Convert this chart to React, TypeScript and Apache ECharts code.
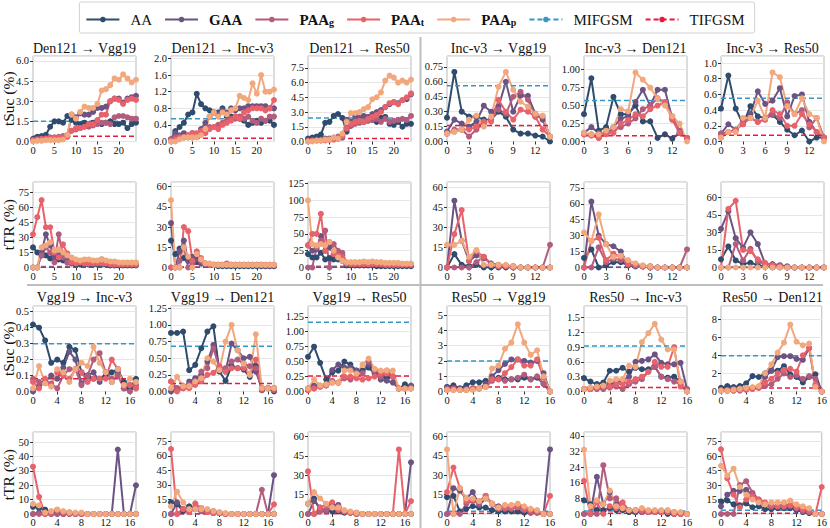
import React, { useEffect, useRef } from 'react';
import * as echarts from 'echarts';

// ---------- legend / series ----------
const SERIES = ['AA', 'GAA', 'PAAg', 'PAAt', 'PAAp'];
const REFS = ['MIFGSM', 'TIFGSM'];
const COLORS = ['#2f4b6e', '#6b5384', '#b35d7e', '#e8626b', '#f1a87d'];
const REF_COLORS = ['#3597c4', '#e8183e'];

const TITLES_TOP = ['Den121 → Vgg19', 'Den121 → Inc-v3', 'Den121 → Res50', 'Inc-v3 → Vgg19', 'Inc-v3 → Den121', 'Inc-v3 → Res50'];
const TITLES_BOTTOM = ['Vgg19 → Inc-v3', 'Vgg19 → Den121', 'Vgg19 → Res50', 'Res50 → Vgg19', 'Res50 → Inc-v3', 'Res50 → Den121'];
const Y_LABELS = ['tSuc (%)', 'tTR (%)', 'tSuc (%)', 'tTR (%)'];

// ---------- data: [AA, GAA, PAA_g, PAA_t, PAA_p] ----------
// Row 1: tSuc, source Den121 (x 0..24) and Inc-v3 (x 0..14)
const sucDen121Vgg19 = [
  [0.2, 0.35, 0.4, 0.5, 1.1, 1.5, 1.5, 1.4, 1.9, 1.6, 1.4, 1.3, 1.4, 1.3, 1.4, 1.5, 1.3, 1.4, 1.5, 1.3, 1.3, 1.4, 1.0, 1.3, 1.4],
  [0.1, 0.2, 0.2, 0.25, 0.3, 0.3, 0.3, 0.35, 0.4, 2.0, 1.8, 2.1, 2.0, 2.0, 2.2, 2.5, 2.5, 2.6, 3.0, 3.2, 3.2, 2.9, 3.2, 3.3, 3.4],
  [0.1, 0.15, 0.2, 0.2, 0.3, 0.3, 0.35, 0.4, 0.5, 0.8, 0.9, 1.0, 1.1, 1.1, 1.2, 1.3, 1.4, 1.4, 1.3, 1.8, 1.9, 1.9, 1.8, 1.7, 1.7],
  [0.1, 0.15, 0.2, 0.2, 0.25, 0.3, 0.3, 0.3, 0.35, 0.8, 1.0, 1.0, 1.1, 1.3, 1.3, 1.6, 2.0, 2.0, 3.0, 3.2, 3.1, 2.8, 3.1, 3.2, 3.1],
  [0.0, 0.05, 0.05, 0.1, 0.1, 0.1, 0.1, 0.15, 0.5, 2.0, 1.7, 2.2, 2.6, 2.5, 2.5, 2.8, 3.8, 3.9, 4.2, 4.7, 4.6, 5.0, 4.7, 4.4, 4.6],
];
const sucDen121Incv3 = [
  [0.05, 0.25, 0.35, 0.45, 0.65, 0.7, 1.15, 0.9, 0.8, 0.75, 0.7, 0.7, 0.8, 0.6, 0.6, 0.6, 0.55, 0.5, 0.4, 0.45, 0.5, 0.45, 0.5, 0.5, 0.4],
  [0.05, 0.2, 0.15, 0.2, 0.15, 0.2, 0.15, 0.3, 0.45, 0.6, 0.7, 0.65, 0.75, 0.7, 0.8, 0.75, 0.8, 0.8, 0.85, 0.85, 0.85, 0.85, 0.85, 0.8, 0.8],
  [0.05, 0.1, 0.1, 0.1, 0.1, 0.1, 0.15, 0.2, 0.25, 0.35, 0.35, 0.4, 0.45, 0.5, 0.55, 0.55, 0.6, 0.55, 0.6, 0.5, 0.45, 0.55, 0.5, 0.6, 0.6],
  [0.0, 0.05, 0.1, 0.1, 0.15, 0.2, 0.2, 0.25, 0.2, 0.3, 0.35, 0.3, 0.4, 0.45, 0.5, 0.6, 0.55, 0.7, 0.75, 0.8, 0.8, 0.8, 0.75, 0.8, 1.0],
  [0.0, 0.0, 0.05, 0.1, 0.1, 0.1, 0.1, 0.15, 0.3, 0.6, 0.7, 0.6, 0.7, 0.65, 0.75, 0.8, 1.1, 1.05, 1.0, 1.4, 1.15, 1.6, 1.2, 1.2, 1.25],
];
const sucDen121Res50 = [
  [0.3, 0.4, 0.5, 0.7, 1.9, 2.0, 2.6, 2.8, 2.4, 1.0, 1.6, 2.0, 2.2, 2.0, 2.3, 2.2, 2.0, 2.4, 2.5, 1.8, 1.7, 2.0, 1.5, 1.8, 1.8],
  [0.1, 0.1, 0.2, 0.2, 0.3, 0.3, 0.4, 0.3, 0.4, 2.2, 2.0, 2.6, 2.4, 2.6, 2.5, 2.8, 3.0, 3.2, 3.5, 3.8, 4.0, 3.9, 4.2, 4.3, 4.8],
  [0.1, 0.1, 0.1, 0.1, 0.2, 0.2, 0.3, 0.5, 0.6, 1.4, 1.6, 1.8, 1.9, 2.0, 2.1, 2.2, 2.3, 2.0, 2.3, 2.0, 2.1, 2.2, 2.3, 2.2, 2.6],
  [0.0, 0.1, 0.1, 0.1, 0.1, 0.2, 0.2, 0.3, 0.5, 1.3, 1.8, 2.0, 2.1, 2.0, 2.3, 2.5, 2.7, 3.0, 3.5, 3.9, 4.0, 3.8, 4.2, 4.5, 4.9],
  [0.0, 0.0, 0.1, 0.1, 0.2, 0.2, 0.4, 0.3, 0.8, 2.0, 2.9, 2.9, 3.0, 3.3, 3.5, 4.3, 4.5, 5.0, 6.2, 6.7, 6.5, 6.0, 6.2, 6.0, 6.3],
];
const sucIncv3Vgg19 = [
  [0.24, 0.70, 0.30, 0.25, 0.25, 0.22, 0.22, 0.30, 0.25, 0.12, 0.08, 0.08, 0.06, 0.05, 0.0],
  [0.10, 0.22, 0.18, 0.15, 0.20, 0.36, 0.30, 0.35, 0.60, 0.30, 0.46, 0.46, 0.28, 0.22, 0.05],
  [0.08, 0.12, 0.12, 0.05, 0.12, 0.18, 0.22, 0.32, 0.28, 0.45, 0.50, 0.42, 0.25, 0.25, 0.05],
  [0.08, 0.10, 0.12, 0.12, 0.15, 0.20, 0.20, 0.42, 0.30, 0.22, 0.32, 0.30, 0.25, 0.12, 0.05],
  [0.08, 0.10, 0.12, 0.22, 0.26, 0.15, 0.25, 0.55, 0.70, 0.52, 0.40, 0.35, 0.28, 0.26, 0.05],
];
const sucIncv3Den121 = [
  [0.38, 0.88, 0.15, 0.20, 0.62, 0.38, 0.38, 0.50, 0.28, 0.28, 0.05, 0.10, 0.04, 0.12, 0.05],
  [0.12, 0.20, 0.12, 0.12, 0.20, 0.32, 0.35, 0.55, 0.72, 0.50, 0.72, 0.72, 0.32, 0.12, 0.05],
  [0.10, 0.10, 0.05, 0.12, 0.15, 0.20, 0.25, 0.32, 0.45, 0.50, 0.60, 0.55, 0.35, 0.15, 0.05],
  [0.10, 0.08, 0.05, 0.10, 0.12, 0.25, 0.30, 0.38, 0.35, 0.45, 0.50, 0.55, 0.30, 0.12, 0.05],
  [0.12, 0.10, 0.10, 0.15, 0.20, 0.45, 0.42, 0.96, 0.86, 0.75, 0.60, 0.50, 0.35, 0.25, 0.0],
];
const sucIncv3Res50 = [
  [0.42, 0.84, 0.42, 0.22, 0.45, 0.32, 0.30, 0.34, 0.25, 0.15, 0.08, 0.14, 0.0, 0.05, 0.05],
  [0.10, 0.22, 0.15, 0.28, 0.35, 0.64, 0.48, 0.52, 0.68, 0.32, 0.58, 0.60, 0.25, 0.12, 0.05],
  [0.10, 0.12, 0.15, 0.25, 0.30, 0.25, 0.28, 0.35, 0.30, 0.50, 0.35, 0.40, 0.18, 0.30, 0.05],
  [0.05, 0.12, 0.15, 0.22, 0.30, 0.25, 0.28, 0.40, 0.35, 0.20, 0.20, 0.35, 0.22, 0.12, 0.05],
  [0.05, 0.12, 0.12, 0.30, 0.30, 0.52, 0.30, 0.88, 0.82, 0.45, 0.35, 0.55, 0.35, 0.30, 0.0],
];

// Row 2: tTR, source Den121 and Inc-v3
const trDen121Vgg19 = [
  [20, 15, 12, 12, 9, 8, 8, 7, 5, 4, 3, 3, 3, 3, 3, 3, 3, 3, 2, 2, 2, 2, 2, 2, 2],
  [0, 0, 15, 33, 22, 10, 12, 10, 8, 7, 6, 6, 5, 6, 5, 6, 8, 6, 5, 5, 4, 4, 4, 4, 4],
  [0, 0, 12, 20, 15, 5, 33, 10, 5, 5, 5, 5, 4, 4, 4, 5, 5, 4, 4, 3, 3, 3, 3, 3, 3],
  [33, 50, 67, 40, 40, 15, 10, 23, 14, 5, 4, 5, 4, 4, 4, 4, 4, 4, 3, 3, 3, 3, 3, 3, 3],
  [0, 0, 20, 22, 25, 17, 18, 15, 12, 10, 8, 7, 8, 8, 7, 7, 8, 7, 6, 6, 5, 5, 5, 5, 5],
];
const trDen121Incv3 = [
  [20, 10, 14, 7, 5, 6, 4, 3, 2, 2, 2, 1, 1, 1, 1, 1, 1, 1, 1, 1, 1, 1, 1, 1, 1],
  [33, 0, 12, 20, 5, 8, 6, 3, 2, 2, 2, 2, 2, 2, 2, 2, 2, 2, 2, 2, 2, 2, 1, 1, 1],
  [0, 0, 5, 15, 0, 3, 10, 5, 3, 2, 2, 2, 2, 2, 2, 2, 2, 2, 2, 2, 2, 2, 2, 2, 2],
  [0, 0, 0, 30, 27, 5, 12, 7, 3, 2, 2, 2, 2, 3, 2, 2, 2, 2, 2, 2, 2, 2, 2, 2, 2],
  [50, 0, 0, 15, 8, 0, 10, 6, 3, 3, 2, 2, 2, 2, 2, 2, 2, 2, 2, 2, 2, 2, 2, 2, 2],
];
const trDen121Res50 = [
  [20, 15, 15, 22, 12, 14, 12, 12, 10, 3, 3, 3, 3, 3, 3, 3, 2, 2, 2, 2, 2, 2, 2, 2, 2],
  [33, 25, 27, 47, 25, 30, 20, 20, 18, 5, 5, 5, 5, 5, 5, 5, 5, 4, 4, 4, 4, 4, 4, 4, 4],
  [0, 0, 30, 40, 55, 0, 35, 25, 22, 6, 6, 6, 6, 6, 6, 6, 5, 5, 5, 5, 5, 5, 5, 5, 5],
  [33, 50, 50, 80, 25, 38, 20, 18, 15, 6, 5, 5, 5, 5, 5, 5, 5, 5, 4, 4, 4, 4, 4, 4, 4],
  [100, 35, 33, 35, 33, 38, 25, 15, 10, 8, 8, 8, 8, 9, 8, 9, 8, 8, 7, 7, 7, 7, 6, 6, 6],
];
const trIncv3Vgg19 = [
  [0, 10, 2, 1, 2, 0, 0, 0, 0, 0, 0, 0, 0, 0, 0],
  [0, 50, 20, 5, 9, 7, 3, 2, 1, 1, 0, 0, 0, 0, 0],
  [0, 0, 0, 0, 4, 8, 3, 1, 1, 0, 0, 0, 0, 0, 17],
  [0, 25, 43, 5, 12, 8, 2, 1, 1, 0, 0, 0, 0, 0, 0],
  [17, 17, 20, 8, 13, 2, 2, 2, 2, 1, 0, 0, 0, 0, 0],
];
const trIncv3Den121 = [
  [9, 17, 0, 2, 5, 5, 2, 1, 1, 0, 0, 0, 0, 0, 0],
  [0, 62, 30, 22, 20, 15, 3, 2, 1, 1, 0, 0, 0, 0, 0],
  [0, 0, 19, 5, 8, 7, 3, 2, 1, 1, 0, 0, 0, 0, 17],
  [0, 25, 28, 7, 13, 10, 3, 2, 1, 0, 0, 0, 0, 0, 0],
  [33, 25, 50, 22, 10, 11, 7, 4, 2, 1, 0, 0, 0, 0, 0],
];
const trIncv3Res50 = [
  [7, 18, 6, 3, 4, 2, 1, 0, 0, 0, 0, 0, 0, 0, 0],
  [33, 48, 25, 17, 30, 20, 3, 3, 2, 1, 0, 0, 0, 0, 0],
  [0, 0, 20, 6, 16, 5, 3, 2, 1, 0, 0, 0, 0, 0, 0],
  [0, 50, 57, 15, 14, 7, 4, 2, 1, 0, 0, 0, 0, 0, 0],
  [0, 0, 0, 0, 0, 0, 0, 0, 0, 0, 0, 0, 0, 0, 0],
];

// Row 3: tSuc, source Vgg19 (x 0..17) and Res50 (x 0..16)
const sucVgg19Incv3 = [
  [0.42, 0.40, 0.32, 0.18, 0.20, 0.18, 0.28, 0.26, 0.12, 0.10, 0.08, 0.08, 0.10, 0.12, 0.14, 0.06, 0.02, 0.08],
  [0.0, 0.03, 0.06, 0.10, 0.08, 0.15, 0.25, 0.20, 0.05, 0.10, 0.12, 0.06, 0.12, 0.06, 0.12, 0.02, 0.04, 0.02],
  [0.08, 0.06, 0.06, 0.05, 0.02, 0.10, 0.14, 0.14, 0.04, 0.10, 0.20, 0.24, 0.12, 0.08, 0.10, 0.02, 0.0, 0.04],
  [0.06, 0.02, 0.08, 0.04, 0.12, 0.10, 0.08, 0.14, 0.12, 0.06, 0.08, 0.08, 0.08, 0.20, 0.14, 0.04, 0.04, 0.02],
  [0.02, 0.16, 0.05, 0.03, 0.14, 0.12, 0.06, 0.14, 0.18, 0.16, 0.28, 0.18, 0.12, 0.06, 0.14, 0.04, 0.08, 0.06],
];
const sucVgg19Den121 = [
  [0.88, 0.88, 0.90, 0.32, 0.40, 0.65, 0.90, 0.98, 0.30, 0.16, 0.38, 0.35, 0.33, 0.22, 0.38, 0.02, 0.05, 0.0],
  [0.0, 0.05, 0.05, 0.15, 0.20, 0.25, 0.45, 0.70, 0.35, 0.30, 0.72, 0.62, 0.50, 0.52, 0.30, 0.05, 0.05, 0.05],
  [0.15, 0.05, 0.08, 0.10, 0.15, 0.30, 0.35, 0.65, 0.35, 0.35, 0.45, 0.48, 0.42, 0.38, 0.35, 0.02, 0.05, 0.02],
  [0.15, 0.0, 0.05, 0.05, 0.10, 0.15, 0.25, 0.28, 0.38, 0.30, 0.35, 0.35, 0.35, 0.25, 0.48, 0.05, 0.05, 0.05],
  [0.05, 0.22, 0.08, 0.08, 0.15, 0.20, 0.50, 0.45, 0.32, 0.75, 1.00, 0.62, 0.42, 0.25, 0.86, 0.05, 0.05, 0.05],
];
const sucVgg19Res50 = [
  [0.58, 0.75, 0.48, 0.20, 0.32, 0.35, 0.50, 0.45, 0.35, 0.35, 0.40, 0.30, 0.25, 0.22, 0.25, 0.05, 0.12, 0.08],
  [0.05, 0.10, 0.08, 0.10, 0.36, 0.45, 0.40, 0.40, 0.35, 0.32, 0.45, 0.32, 0.20, 0.18, 0.15, 0.05, 0.05, 0.10],
  [0.05, 0.05, 0.10, 0.12, 0.18, 0.15, 0.22, 0.20, 0.25, 0.30, 0.50, 0.35, 0.25, 0.35, 0.25, 0.05, 0.05, 0.05],
  [0.02, 0.05, 0.08, 0.10, 0.15, 0.15, 0.25, 0.25, 0.22, 0.20, 0.22, 0.25, 0.30, 0.30, 0.25, 0.05, 0.05, 0.05],
  [0.05, 0.20, 0.10, 0.12, 0.15, 0.15, 0.35, 0.35, 0.30, 0.45, 0.55, 0.38, 0.35, 0.35, 0.35, 0.05, 0.05, 0.05],
];
const sucRes50Vgg19 = [
  [0.3, 0.4, 0.2, 0.4, 0.6, 0.6, 0.7, 0.8, 0.9, 0.8, 0.8, 0.8, 0.9, 0.8, 0.9, 0.5, 0.0],
  [0.2, 0.2, 0.2, 0.2, 0.2, 0.2, 0.5, 1.0, 1.4, 1.8, 2.1, 2.1, 2.0, 1.9, 2.0, 1.2, 0.0],
  [0.2, 0.2, 0.1, 0.1, 0.2, 0.2, 0.3, 0.7, 0.8, 0.7, 0.8, 0.9, 1.1, 0.8, 1.0, 0.5, 0.0],
  [0.1, 0.1, 0.1, 0.1, 0.2, 0.2, 0.3, 0.8, 0.8, 1.2, 1.6, 2.1, 1.7, 1.7, 2.1, 0.9, 0.0],
  [0.1, 0.1, 0.1, 0.1, 0.1, 0.2, 0.3, 1.5, 1.7, 2.8, 3.2, 4.4, 3.2, 2.4, 2.7, 1.0, 0.0],
];
const sucRes50Incv3 = [
  [0.27, 0.20, 0.15, 0.18, 0.42, 0.42, 0.48, 0.40, 0.48, 0.45, 0.45, 0.50, 0.30, 0.28, 0.30, 0.20, 0.0],
  [0.05, 0.05, 0.08, 0.10, 0.15, 0.18, 0.22, 0.30, 0.60, 0.62, 0.65, 0.75, 0.58, 0.55, 0.55, 0.58, 0.05],
  [0.05, 0.05, 0.05, 0.05, 0.08, 0.10, 0.05, 0.15, 0.20, 0.25, 0.40, 0.50, 0.30, 0.25, 0.20, 0.15, 0.05],
  [0.05, 0.05, 0.08, 0.10, 0.10, 0.15, 0.15, 0.20, 0.25, 0.30, 0.40, 0.60, 0.50, 0.50, 0.90, 0.10, 0.0],
  [0.05, 0.08, 0.10, 0.12, 0.22, 0.25, 0.25, 0.52, 0.50, 1.00, 1.18, 1.37, 1.05, 0.85, 0.85, 0.20, 0.0],
];
const sucRes50Den121 = [
  [0.4, 0.6, 0.5, 0.6, 0.9, 1.7, 1.6, 2.0, 2.3, 2.3, 2.8, 1.9, 1.6, 1.0, 1.6, 1.9, 0.0],
  [0.2, 0.2, 0.3, 0.3, 0.3, 0.4, 0.5, 1.6, 2.3, 3.8, 3.9, 3.9, 3.6, 3.5, 4.8, 0.6, 0.0],
  [0.1, 0.1, 0.1, 0.1, 0.2, 0.3, 0.4, 0.6, 0.8, 1.4, 2.0, 1.6, 1.8, 1.4, 1.7, 1.4, 0.0],
  [0.1, 0.1, 0.1, 0.2, 0.2, 0.3, 0.5, 1.0, 1.4, 2.0, 2.4, 2.5, 2.2, 4.0, 4.8, 0.8, 0.0],
  [0.1, 0.1, 0.2, 0.3, 0.4, 0.5, 0.6, 2.0, 3.0, 4.3, 5.4, 7.4, 5.5, 5.1, 5.3, 0.5, 0.0],
];

// Row 4: tTR, source Vgg19 and Res50
const trVgg19Incv3 = [
  [5, 4, 3, 1, 1, 0, 1, 0, 0, 0, 0, 0, 0, 0, 0, 0, 0, 0],
  [0, 1, 0, 0, 0, 0, 0, 0, 0, 0, 0, 0, 0, 0, 45, 0, 0, 20],
  [0, 0, 0, 0, 0, 0, 0, 0, 0, 0, 0, 0, 0, 0, 0, 0, 0, 0],
  [33, 12, 0, 1, 3, 1, 1, 0, 0, 0, 0, 0, 0, 0, 0, 0, 0, 0],
  [7, 6, 1, 2, 3, 2, 1, 1, 1, 0, 0, 0, 0, 0, 0, 0, 0, 0],
];
const trVgg19Den121 = [
  [12, 10, 3, 8, 5, 5, 3, 1, 1, 0, 0, 0, 0, 0, 0, 0, 0, 0],
  [0, 12, 5, 3, 5, 3, 2, 3, 1, 0, 0, 0, 0, 0, 0, 0, 0, 40],
  [0, 0, 5, 2, 6, 3, 2, 1, 1, 0, 0, 0, 0, 0, 0, 25, 0, 0],
  [67, 0, 5, 2, 11, 6, 2, 1, 1, 0, 0, 0, 0, 0, 0, 0, 0, 10],
  [8, 23, 12, 5, 5, 5, 5, 3, 2, 1, 0, 0, 0, 0, 0, 0, 0, 0],
];
const trVgg19Res50 = [
  [8, 12, 3, 3, 2, 2, 1, 1, 0, 0, 0, 0, 0, 0, 0, 0, 0, 0],
  [0, 10, 5, 2, 7, 7, 2, 1, 1, 0, 0, 0, 0, 0, 0, 0, 0, 40],
  [0, 0, 2, 3, 5, 6, 2, 1, 0, 0, 0, 0, 0, 0, 0, 0, 0, 0],
  [33, 0, 5, 7, 9, 3, 2, 1, 0, 0, 0, 0, 0, 0, 0, 50, 0, 10],
  [8, 17, 12, 8, 5, 5, 3, 2, 1, 0, 0, 0, 0, 0, 0, 0, 0, 0],
];
const trRes50Vgg19 = [
  [13, 14, 2, 4, 6, 5, 5, 3, 2, 2, 2, 2, 1, 1, 1, 0, 0],
  [0, 20, 18, 12, 17, 7, 12, 8, 6, 5, 5, 6, 5, 2, 2, 0, 50],
  [0, 0, 0, 8, 10, 8, 14, 8, 4, 4, 4, 5, 3, 1, 1, 0, 0],
  [17, 36, 20, 10, 11, 10, 14, 8, 5, 5, 5, 6, 4, 3, 2, 0, 14],
  [50, 0, 20, 12, 12, 10, 12, 8, 5, 7, 7, 8, 6, 4, 3, 0, 0],
];
const trRes50Incv3 = [
  [7, 5, 2, 2, 3, 2, 2, 1, 1, 1, 1, 1, 1, 0, 0, 0, 0],
  [0, 0, 19, 5, 11, 5, 3, 2, 1, 1, 1, 1, 1, 1, 0, 0, 0],
  [0, 0, 0, 25, 8, 8, 3, 2, 2, 1, 1, 1, 1, 1, 1, 0, 0],
  [17, 0, 6, 0, 4, 3, 6, 2, 2, 2, 1, 1, 1, 1, 0, 0, 0],
  [33, 4, 7, 5, 12, 4, 3, 2, 2, 3, 2, 2, 2, 2, 1, 1, 0],
];
const trRes50Den121 = [
  [13, 14, 10, 9, 11, 7, 8, 5, 5, 6, 6, 6, 4, 2, 1, 0, 0],
  [8, 20, 24, 24, 25, 20, 12, 10, 7, 8, 7, 8, 5, 3, 2, 0, 0],
  [0, 0, 0, 30, 34, 22, 15, 10, 8, 8, 10, 9, 6, 3, 2, 0, 0],
  [67, 37, 20, 7, 15, 18, 15, 12, 9, 8, 8, 9, 7, 5, 3, 0, 28],
  [50, 40, 47, 28, 20, 15, 12, 10, 12, 12, 12, 14, 10, 8, 6, 0, 0],
];

// reference levels (MIFGSM, TIFGSM) per panel, row-major
const MIFGSM_LEVELS = [1.5, 0.55, 2.4, 0.56, 0.57, 0.55, 1.0, 0.4, 1.8, 0.3, 0.4, 0.3, 0.3, 0.68, 1.16, 2.0, 0.92, 3.95, 0.4, 0.3, 1.0, 2.2, 1.5, 4.0];
const TIFGSM_LEVELS = [0.4, 0.08, 0.3, 0.16, 0.08, 0.08, 0.2, 0.1, 0.3, 0.1, 0.1, 0.1, 0.08, 0.12, 0.26, 0.3, 0.08, 0.4, 0.1, 0.1, 0.2, 0.5, 0.4, 0.8];

// y axis tick steps, label decimals and upper limits per panel, row-major
const Y_STEPS = [1.5, 0.4, 1.5, 0.15, 0.25, 0.2, 15, 15, 25, 15, 15, 15, 0.1, 0.25, 0.25, 1, 0.3, 2, 10, 15, 15, 15, 8, 15];
const Y_DECIMALS = [1, 1, 1, 2, 2, 1, 0, 0, 0, 0, 0, 0, 1, 2, 2, 0, 1, 0, 0, 0, 0, 0, 0, 0];
const Y_MAX = [6.37, 2.06, 8.7, 0.86, 1.19, 1.09, 85, 63.5, 127.5, 64, 80.5, 73, 0.536, 1.285, 1.43, 5.6, 1.73, 9.45, 57.2, 84.5, 63.5, 63.5, 42, 85];

// x axis per column group
const X_MAX = { den121: 24, incv3: 14, vgg19: 17, res50: 16 };
const X_STEP = { den121: 5, incv3: 3, vgg19: 4, res50: 4 };

const PANEL_DATA = [
  sucDen121Vgg19, sucDen121Incv3, sucDen121Res50, sucIncv3Vgg19, sucIncv3Den121, sucIncv3Res50,
  trDen121Vgg19, trDen121Incv3, trDen121Res50, trIncv3Vgg19, trIncv3Den121, trIncv3Res50,
  sucVgg19Incv3, sucVgg19Den121, sucVgg19Res50, sucRes50Vgg19, sucRes50Incv3, sucRes50Den121,
  trVgg19Incv3, trVgg19Den121, trVgg19Res50, trRes50Vgg19, trRes50Incv3, trRes50Den121,
];

// ---------- layout ----------
const SERIF = '"Liberation Serif", "DejaVu Serif", "Times New Roman", serif';
const COL_X = [33, 171, 308, 447, 584, 721];
const ROW_Y = [56, 182, 306, 432];
const PW = 103;
const PH = 85.5;

const LEGEND_TEXT: Record<string, string> = {
  AA: '{n|AA}',
  GAA: '{b|GAA}',
  PAAg: '{b|PAA}{s|g}',
  PAAt: '{b|PAA}{s|t}',
  PAAp: '{b|PAA}{s|p}',
  MIFGSM: '{n|MIFGSM}',
  TIFGSM: '{n|TIFGSM}',
};

function buildOption() {
  const grid: any[] = [];
  const xAxis: any[] = [];
  const yAxis: any[] = [];
  const series: any[] = [];
  const graphic: any[] = [];

  PANEL_DATA.forEach((pd, i) => {
    const r = Math.floor(i / 6);
    const c = i % 6;
    const grp = r < 2 ? (c < 3 ? 'den121' : 'incv3') : (c < 3 ? 'vgg19' : 'res50');
    const xMax = (X_MAX as any)[grp];
    const xStep = (X_STEP as any)[grp];
    grid.push({
      left: COL_X[c], top: ROW_Y[r], width: PW, height: PH,
      show: true, borderColor: '#b9b9b9', borderWidth: 1, containLabel: false,
    });
    xAxis.push({
      type: 'value', gridIndex: i, min: 0, max: xMax, interval: xStep,
      axisLine: { show: false },
      axisTick: { show: true, length: 3, lineStyle: { color: '#333', width: 1 } },
      axisLabel: {
        fontFamily: SERIF, fontSize: 10.5, color: '#111', margin: 3,
        showMaxLabel: xMax % xStep === 0, showMinLabel: true,
      },
      splitLine: { show: false },
    });
    const dec = Y_DECIMALS[i];
    yAxis.push({
      type: 'value', gridIndex: i, min: 0, max: Y_MAX[i], interval: Y_STEPS[i],
      axisLine: { show: false },
      axisTick: { show: true, length: 3, lineStyle: { color: '#333', width: 1 } },
      axisLabel: {
        fontFamily: SERIF, fontSize: 10.5, color: '#111', margin: 4,
        showMaxLabel: false, showMinLabel: true,
        formatter: (v: number) => v.toFixed(dec),
      },
      splitLine: { show: true, lineStyle: { color: '#e6e6e6', width: 1 } },
    });
    SERIES.forEach((name, k) => {
      series.push({
        name, type: 'line', xAxisIndex: i, yAxisIndex: i,
        data: pd[k].map((v: number, j: number) => [j, v]),
        symbol: 'circle', symbolSize: 6, showSymbol: true,
        lineStyle: { width: 2, color: COLORS[k] },
        itemStyle: { color: COLORS[k] },
        emphasis: { disabled: true },
      });
    });
    const levels = [MIFGSM_LEVELS[i], TIFGSM_LEVELS[i]];
    REFS.forEach((name, k) => {
      series.push({
        name, type: 'line', xAxisIndex: i, yAxisIndex: i,
        data: [[0, levels[k]], [xMax, levels[k]]],
        symbol: 'none', silent: true,
        lineStyle: { width: 1.5, type: [5, 3], color: REF_COLORS[k] },
        itemStyle: { color: REF_COLORS[k] },
        emphasis: { disabled: true },
      });
    });
  });

  // panel titles
  [TITLES_TOP, TITLES_BOTTOM].forEach((titles, t) => {
    titles.forEach((txt, c) => {
      graphic.push({
        type: 'text', x: COL_X[c] + PW / 2, y: t === 0 ? 48.5 : 297,
        style: {
          text: txt, font: `14px ${SERIF}`, fill: '#111',
          textAlign: 'center', textVerticalAlign: 'middle', align: 'center', verticalAlign: 'middle',
        },
      });
    });
  });
  // y-axis names
  Y_LABELS.forEach((txt, r) => {
    graphic.push({
      type: 'text', x: 8.5, y: ROW_Y[r] + PH / 2, rotation: Math.PI / 2,
      style: {
        text: txt, font: `15.5px ${SERIF}`, fill: '#111',
        textAlign: 'center', textVerticalAlign: 'middle', align: 'center', verticalAlign: 'middle',
      },
    });
  });
  // separators
  graphic.push({ type: 'line', shape: { x1: 420.5, y1: 37, x2: 420.5, y2: 528 }, style: { stroke: '#bdbdbd', lineWidth: 2 }, silent: true });
  graphic.push({ type: 'line', shape: { x1: 27, y1: 285, x2: 823, y2: 285 }, style: { stroke: '#bdbdbd', lineWidth: 2 }, silent: true });

  return {
    animation: false,
    backgroundColor: '#ffffff',
    legend: {
      top: 2, left: 'center',
      data: [...SERIES, ...REFS],
      itemWidth: 33, itemHeight: 7, itemGap: 12,
      padding: [6, 10, 6, 6],
      borderColor: '#d2d2d2', borderWidth: 1, borderRadius: 2,
      formatter: (name: string) => LEGEND_TEXT[name] || name,
      textStyle: {
        fontFamily: SERIF, fontSize: 15, color: '#111',
        rich: {
          n: { fontFamily: SERIF, fontSize: 15, color: '#111', padding: [0, 0, 0, 6] },
          b: { fontFamily: SERIF, fontSize: 15, fontWeight: 'bold', color: '#111', padding: [0, 0, 0, 6] },
          s: { fontFamily: SERIF, fontSize: 10, fontWeight: 'bold', color: '#111', verticalAlign: 'bottom', lineHeight: 10, padding: [9, 0, 0, 0] },
        },
      },
      selectedMode: false,
    },
    grid, xAxis, yAxis, series, graphic,
  };
}

export default function App() {
  const ref = useRef<HTMLDivElement>(null);
  useEffect(() => {
    if (!ref.current) return;
    const chart = echarts.init(ref.current, null, { renderer: 'svg' });
    chart.setOption(buildOption() as any);
    return () => chart.dispose();
  }, []);
  return (
    <div
      ref={ref}
      style={{ position: 'fixed', left: 0, top: 0, width: 830, height: 528, background: '#fff' }}
    />
  );
}
